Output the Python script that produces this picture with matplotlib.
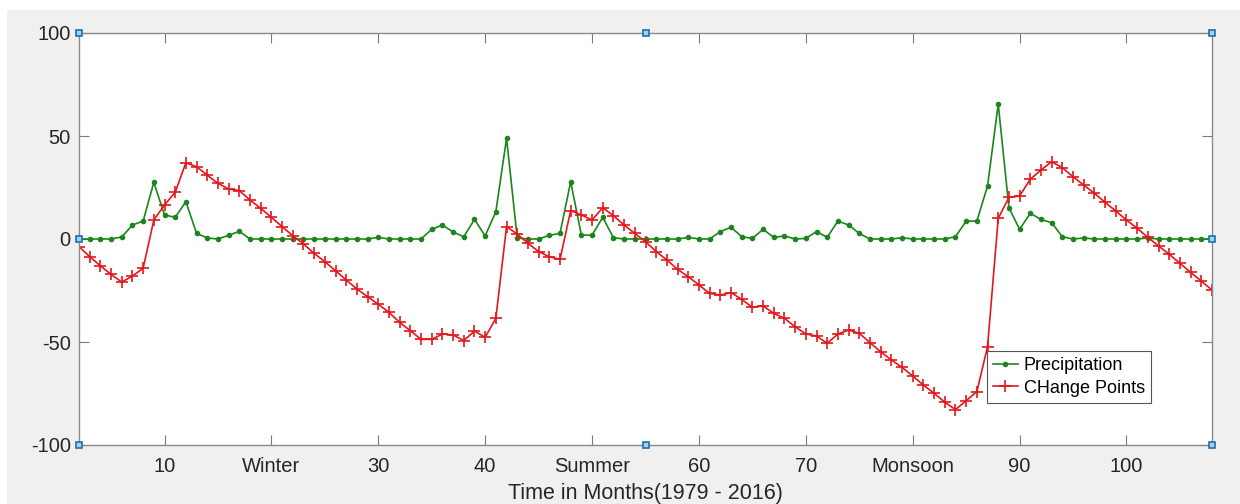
import numpy as np
import matplotlib.pyplot as plt
from matplotlib.patches import Rectangle

plt.rcParams['font.family'] = ['Liberation Sans', 'DejaVu Sans']
plt.rcParams['axes.unicode_minus'] = False

# months shown on the axis (2..108)
months = list(range(2, 109))

precipitation = [
    0, 0, 0, 0, 1, 6.8, 8.7, 27.5, 11.7, 10.5,          # 2-11
    18.1, 2.7, 0.5, 0, 1.8, 3.7, 0, 0, 0, 0,            # 12-21
    0, 0, 0, 0, 0, 0, 0, 0, 0.8, 0,                     # 22-31
    0, 0, 0, 4.7, 6.8, 3.4, 1.1, 9.5, 1.5, 13.3,        # 32-41
    48.9, 0.5, 0, 0, 1.8, 2.7, 27.8, 1.9, 1.9, 10.5,    # 42-51
    0.6, 0, 0, 0, 0, 0, 0, 0.8, 0, 0,                   # 52-61
    3.6, 5.7, 1.1, 0.3, 4.7, 0.8, 1.5, 0, 0.3, 3.6,     # 62-71
    0.8, 8.7, 6.8, 2.7, 0, 0, 0, 0.6, 0, 0,             # 72-81
    0, 0, 1.1, 8.7, 8.7, 25.7, 65.5, 15.2, 4.7, 12.5,   # 82-91
    9.5, 7.9, 1.1, 0, 0.5, 0, 0, 0, 0, 0,               # 92-101
    0.5, 0, 0, 0, 0, 0, 0,                              # 102-108
]

change_points = [
    -3.7, -8.6, -13, -17.2, -20.9, -18, -14.2, 9.2, 16.5, 22.7,       # 2-11
    37, 35.1, 31, 27, 24.3, 23.5, 18.9, 14.9, 10.5, 6,                # 12-21
    1.6, -2.4, -7, -11, -15.4, -19.9, -24.3, -28, -31.7, -35.6,       # 22-31
    -40.5, -44.5, -48.7, -48.7, -46.1, -46.6, -49.3, -44.7, -47.7, -38.5,  # 32-41
    6, 2.4, -2.1, -6.1, -8.6, -9.9, 13.8, 11.7, 9.2, 15.2,            # 42-51
    11.3, 6.8, 2.7, -1.3, -6.1, -10.2, -14.7, -18.3, -22.3, -26.4,    # 52-61
    -27.2, -26, -29.3, -33.2, -32.5, -36.1, -38.5, -42.6, -46.1, -47.1,  # 62-71
    -50.6, -46.1, -44.2, -45.8, -50.3, -54.7, -58.7, -62.3, -66.5, -70.9,  # 72-81
    -74.9, -79.2, -82.8, -78.5, -74.1, -52.3, 10, 20.2, 20.9, 29,     # 82-91
    33.5, 37.5, 34.6, 30.2, 26.2, 22.2, 17.8, 13.6, 9.2, 5.2,         # 92-101
    0.8, -3.4, -7.4, -11.8, -16.2, -20.4, -24.8,                      # 102-108
]

tick_pos = [10, 20, 30, 40, 50, 60, 70, 80, 90, 100]
tick_labels = ['10', 'Winter', '30', '40', 'Summer', '60', '70', 'Monsoon', '90', '100']

fig = plt.figure(figsize=(12.4, 5.04), dpi=100)
fig.patch.set_facecolor('white')
fig.patches.append(Rectangle((7 / 1240, 0), 1, 1 - 10 / 504, transform=fig.transFigure,
                             facecolor='#f0f0f0', edgecolor='none', zorder=-10))

ax = fig.add_axes([79 / 1240, 1 - 445 / 504, (1212 - 79) / 1240, (445 - 33) / 504])
ax.set_facecolor('white')

ax.plot(months, precipitation, color='#1c861c', marker='.', markersize=6, lw=1.2,
        label='Precipitation')
ax.plot(months, change_points, color='#e3171c', marker='+', markersize=8, mew=1.2, lw=1.2,
        label='CHange Points')

ax.set_xlim(2, 108)
ax.set_ylim(-100, 100)
ax.set_yticks([-100, -50, 0, 50, 100])
ax.set_xticks(tick_pos)
ax.set_xticklabels(tick_labels)
ax.set_xlabel('Time in Months(1979 - 2016)', fontsize=15.5, color='#262626', labelpad=5)

ax.tick_params(direction='in', length=7, width=0.8, color='#7a7a7a', labelsize=14.5,
               labelcolor='#262626', top=True, right=True, pad=9)
ax.tick_params(axis='y', pad=6)
for s in ax.spines.values():
    s.set_color('#8a8a8a')
    s.set_linewidth(1.0)

leg = ax.legend(loc='lower left', bbox_to_anchor=(0.801, 0.102), fontsize=13,
                fancybox=False, framealpha=1, edgecolor='#555555',
                handlelength=1.4, borderpad=0.35, labelspacing=0.3, handletextpad=0.3,
                borderaxespad=0)
leg.get_frame().set_linewidth(0.8)

# figure selection handles
hx = [0, 0.5, 1, 0, 1, 0, 0.5, 1]
hy = [0, 0, 0, 0.5, 0.5, 1, 1, 1]
ax.plot(hx, hy, ls='none', marker='s', markersize=5, mfc='#9fd3f0', mec='#1f6fb0', mew=1.2,
        transform=ax.transAxes, clip_on=False, zorder=10)

fig.savefig('out.png', dpi=100)
